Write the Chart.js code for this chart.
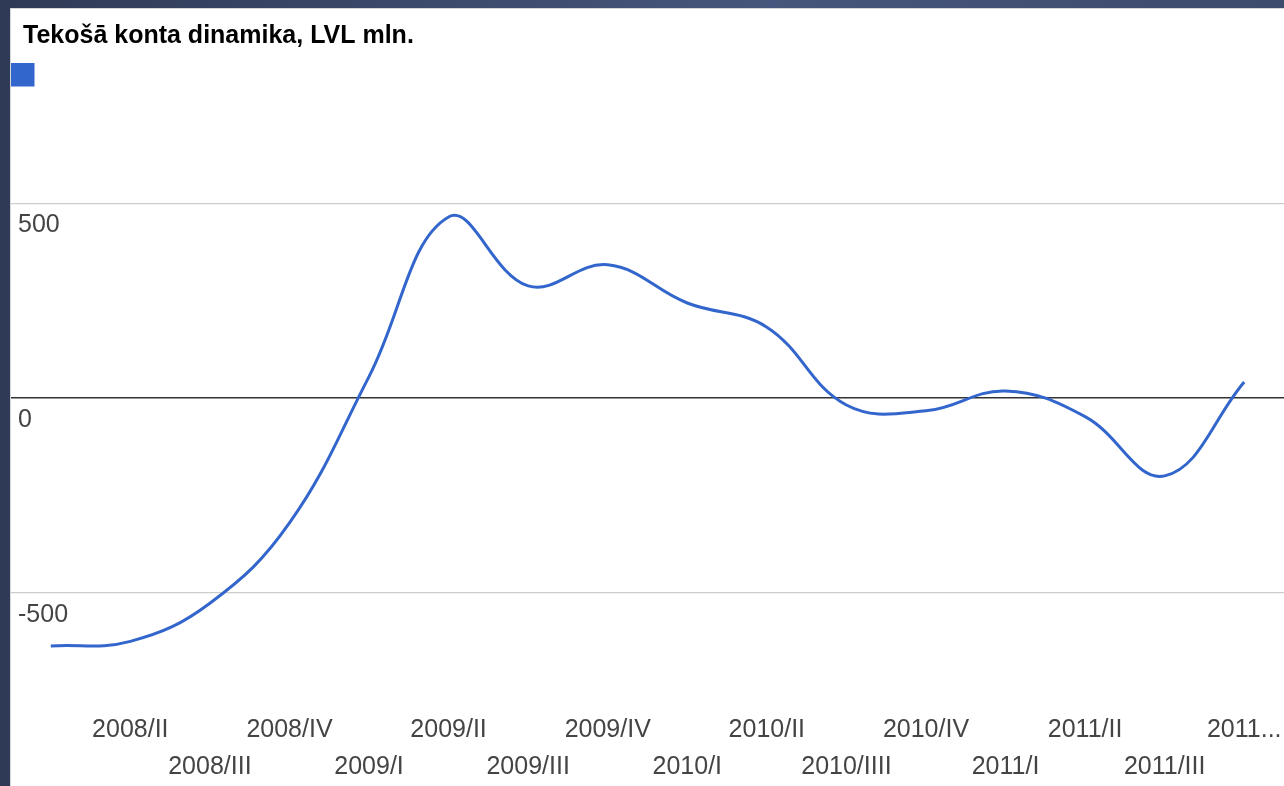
<!DOCTYPE html>
<html>
<head>
<meta charset="utf-8">
<script src="https://cdn.jsdelivr.net/npm/chart.js@4.4.1/dist/chart.umd.min.js"></script>
<style>
  html, body { margin: 0; padding: 0; }
  body {
    width: 1284px; height: 786px; overflow: hidden;
    background: linear-gradient(90deg, #2f3a56 0%, #46567c 60%, #3d4b6c 100%);
    position: relative;
  }
  .panel {
    position: absolute; left: 10px; top: 8px; right: 0; bottom: 0;
    background: #fff; border-top: 1px solid #d6d6d6; border-left: 1px solid #d6d6d6;
  }
  #chart { position: absolute; left: 0; top: 0; }
</style>
</head>
<body>
<div class="panel"><canvas id="chart" width="1273" height="777"></canvas></div>
<script>
  // Tekošā konta dinamika — ceturkšņi 2008/I ... 2011/IV
  const TITLE = 'Tekošā konta dinamika, LVL mln.';
  const QUARTERS = [
    '2008/I', '2008/II', '2008/III', '2008/IV',
    '2009/I', '2009/II', '2009/III', '2009/IV',
    '2010/I', '2010/II', '2010/IIII', '2010/IV',
    '2011/I', '2011/II', '2011/III', '2011/IV',
  ];
  const VALUES = [
    -637, -625, -527, -321,
    55, 465, 288, 342,
    244, 182, -18, -33,
    18, -48, -200, 41,
  ];
  const Y_TICKS = [-500, 0, 500];
  const Y_MIN = -750, Y_MAX = 750;

  const FONT = '"Liberation Sans", Arial, sans-serif';
  const BLUE = '#3366cc';

  // virsraksts — zīmēts pats, lai būtu tieši vietā
  const headline = {
    id: 'headline',
    afterDraw(chart) {
      const c = chart.ctx;
      c.save();
      c.font = 'bold 25px ' + FONT;
      c.fillStyle = '#000';
      c.textBaseline = 'middle';
      c.textAlign = 'left';
      c.fillText(TITLE, 12, 27);
      c.restore();
    },
  };

  // leģendai vajag vairāk vietas zem kvadrātiņa
  const legendGap = {
    id: 'legendGap',
    beforeInit(chart) {
      const fit = chart.legend.fit;
      chart.legend.fit = function () {
        fit.bind(chart.legend)();
        this.height = 43;
      };
    },
  };

  new Chart(document.getElementById('chart'), {
    type: 'line',
    data: {
      labels: QUARTERS,
      datasets: [{
        label: '',
        data: VALUES,
        borderColor: BLUE,
        backgroundColor: BLUE,
        borderWidth: 3,
        tension: 0.4,
        pointRadius: 0,
        fill: false,
      }],
    },
    options: {
      responsive: false,
      animation: false,
      layout: { padding: { top: 54, left: 0, right: 0, bottom: 0 } },
      plugins: {
        legend: {
          position: 'top', align: 'start',
          labels: { boxWidth: 22, boxHeight: 22, padding: 0, font: { size: 22, family: FONT } },
        },
        title: { display: false },
        tooltip: { enabled: false },
      },
      scales: {
        x: {
          offset: true,
          grid: { display: false, drawTicks: false },
          border: { display: false },
          afterFit: function (s) { s.paddingLeft = 0; s.paddingRight = 0; s.height = 96; },
          ticks: {
            autoSkip: false, maxRotation: 0, padding: 22,
            color: '#444',
            font: { size: 25, family: FONT, lineHeight: 1.48 },
            callback: function (v, i) {
              let lab = this.getLabelForValue(v);
              if (i === 0) return '';
              if (i === QUARTERS.length - 1) lab = lab.slice(0, 4) + '...';
              return i % 2 === 1 ? lab : ['', lab];
            },
          },
        },
        y: {
          min: Y_MIN, max: Y_MAX,
          afterBuildTicks: function (s) { s.ticks = Y_TICKS.map(function (v) { return { value: v }; }); },
          afterFit: function (s) { s.width = 0; },
          grid: {
            drawTicks: false,
            color: function (c) { return c.tick && c.tick.value === 0 ? '#333' : '#cccccc'; },
            lineWidth: function (c) { return c.tick && c.tick.value === 0 ? 1.5 : 1.2; },
          },
          border: { display: false },
          ticks: {
            mirror: true, padding: 7, labelOffset: 22,
            color: '#444',
            font: { size: 25, family: FONT },
          },
        },
      },
    },
    plugins: [headline, legendGap],
  });
</script>
</body>
</html>
